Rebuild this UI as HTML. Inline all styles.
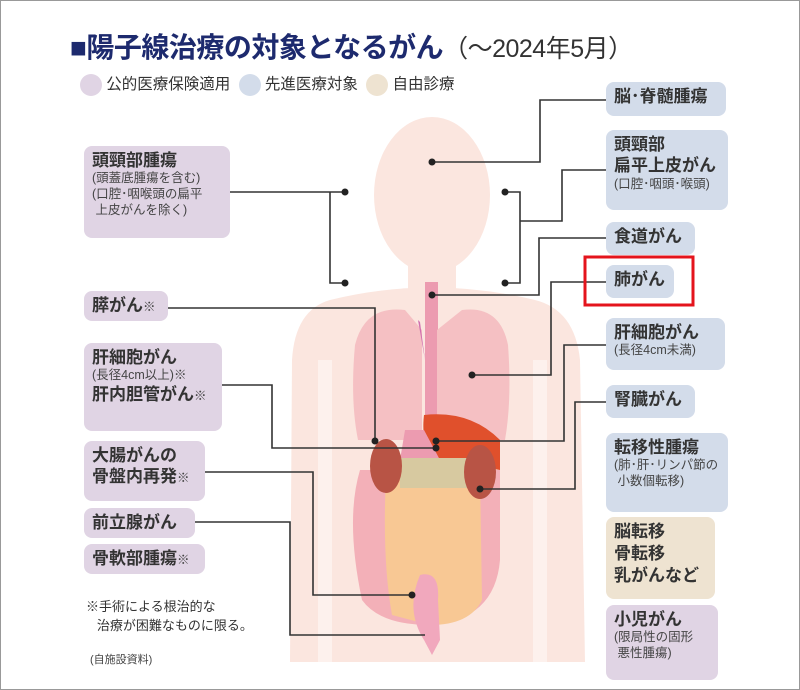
<!DOCTYPE html>
<html><head><meta charset="utf-8"><style>
html,body{margin:0;padding:0;background:#fff}
body{width:800px;height:690px;position:relative;overflow:hidden;font-family:"Liberation Sans","Noto Sans CJK JP",sans-serif;color:#333}
.frame{position:absolute;left:0;top:0;width:798px;height:688px;border:1px solid #999}
.b{position:absolute;border-radius:8px;box-sizing:border-box;padding:4px 8px;line-height:1.25}
.p{background:#e0d4e4}.bl{background:#d3dcea}.t{background:#eee3d1}
.big{font-size:17px;font-weight:bold;color:#333}
.sm{font-size:12.5px;color:#444}
.ab{position:absolute}
</style></head><body>
<div class="frame"></div>
<div class="ab" style="left:70px;top:26px;font-size:28px;font-weight:bold;color:#1d2a6e;white-space:nowrap;letter-spacing:-0.5px">■陽子線治療の対象となるがん<span style="font-weight:normal;color:#333;font-size:25px">（～2024年5月）</span></div>
<div class="ab" style="left:80px;top:74px;font-size:15.5px;white-space:nowrap;line-height:22px">
<span style="display:inline-block;width:22px;height:22px;border-radius:11px;background:#e0d4e4;vertical-align:middle"></span> 公的医療保険適用
<span style="display:inline-block;width:22px;height:22px;border-radius:11px;background:#d3dcea;vertical-align:middle;margin-left:4px"></span> 先進医療対象
<span style="display:inline-block;width:22px;height:22px;border-radius:11px;background:#eee3d1;vertical-align:middle;margin-left:4px"></span> 自由診療</div>

<svg class="ab" style="left:0;top:0" width="800" height="690">
<g fill="#fbe6df">
<ellipse cx="432" cy="195" rx="58" ry="78"/>
<rect x="408" y="250" width="48" height="50"/>
<path d="M330 300 Q432 275 535 300 Q575 310 580 360 L585 662 L290 662 L292 360 Q295 310 330 300Z"/>
</g>
<g fill="#fdf1ed"><rect x="318" y="360" width="14" height="302"/><rect x="533" y="360" width="14" height="302"/></g>
<rect x="425" y="282" width="13" height="140" fill="#ec9bb0"/>
<path d="M355 345 Q365 305 405 310 L422 330 L422 440 L358 440 Q350 400 355 345Z" fill="#f5c0c3"/>
<path d="M508 345 Q500 305 462 310 L437 330 L437 440 L505 440 Q512 400 508 345Z" fill="#f5c0c3"/>
<path d="M420 322 L425 360 L418 320Z" fill="#d070b0"/>
<path d="M424 415 Q470 410 500 440 L500 470 L440 460 Q420 450 424 415Z" fill="#e0502c"/>
<path d="M405 430 L424 430 L440 460 L400 460Z" fill="#ec9bb0"/>
<path d="M360 470 Q345 520 362 600 Q380 625 430 625 Q495 620 500 560 L500 470Z" fill="#f3b0b8"/>
<path d="M386 475 L480 475 L482 600 Q470 625 430 625 L392 615 Q382 560 386 475Z" fill="#f8c894"/>
<rect x="400" y="458" width="70" height="30" fill="#d7c9a0"/>
<path d="M420 575 Q440 570 438 600 L440 640 L432 655 L424 640 Q405 610 420 575Z" fill="#f1a8bd"/>
<ellipse cx="386" cy="466" rx="16" ry="27" fill="#b85445"/>
<ellipse cx="480" cy="472" rx="16" ry="27" fill="#b85445"/>
<g fill="none" stroke="#333" stroke-width="1.6">
<path d="M432 162 H540 V100 H606"/>
<path d="M505 192 H520 V283 H505 M520 221 H562 V170 H606"/>
<path d="M230 192 H345 M330 192 V283 H345"/>
<path d="M432 295 H539 V238 H606"/>
<path d="M472 375 H551 V282 H606"/>
<path d="M436 441 H564 V345 H606"/>
<path d="M480 489 H575 V402 H606"/>
<path d="M168 308 H375 V441"/>
<path d="M222 385 H272 V448 H436"/>
<path d="M205 472 H313 V595 H412"/>
<path d="M195 522 H290 V635 H425"/>
</g>
<g fill="#222">
<circle cx="432" cy="162" r="3.5"/><circle cx="505" cy="192" r="3.5"/><circle cx="505" cy="283" r="3.5"/>
<circle cx="345" cy="192" r="3.5"/><circle cx="345" cy="283" r="3.5"/><circle cx="432" cy="295" r="3.5"/>
<circle cx="472" cy="375" r="3.5"/><circle cx="436" cy="441" r="3.5"/><circle cx="436" cy="448" r="3.5"/>
<circle cx="480" cy="489" r="3.5"/><circle cx="375" cy="441" r="3.5"/><circle cx="412" cy="595" r="3.5"/>
</g>
<rect x="585" y="257" width="108" height="48" fill="none" stroke="#e4141c" stroke-width="3"/>
</svg>

<div class="b p" style="left:84px;top:146px;width:146px;height:92px"><div class="big">頭頸部腫瘍</div><div class="sm">(頭蓋底腫瘍を含む)<br>(口腔･咽喉頭の扁平<br>&nbsp;上皮がんを除く)</div></div>
<div class="b p" style="left:84px;top:291px;width:84px;height:30px"><span class="big">膵がん</span><span class="sm">※</span></div>
<div class="b p" style="left:84px;top:343px;width:138px;height:88px"><div class="big">肝細胞がん</div><div class="sm">(長径4cm以上)※</div><div class="big">肝内胆管がん<span class="sm">※</span></div></div>
<div class="b p" style="left:84px;top:441px;width:121px;height:60px"><div class="big">大腸がんの<br>骨盤内再発<span class="sm">※</span></div></div>
<div class="b p" style="left:84px;top:508px;width:111px;height:30px"><span class="big">前立腺がん</span></div>
<div class="b p" style="left:84px;top:544px;width:121px;height:30px"><span class="big">骨軟部腫瘍</span><span class="sm">※</span></div>
<div class="ab sm" style="left:86px;top:597px;font-size:13px;line-height:19px;color:#333">※手術による根治的な<br>&nbsp;&nbsp;&nbsp;治療が困難なものに限る。</div>
<div class="ab sm" style="left:90px;top:651px;font-size:11px">(自施設資料)</div>

<div class="b bl" style="left:606px;top:82px;width:120px;height:34px"><span class="big">脳･脊髄腫瘍</span></div>
<div class="b bl" style="left:606px;top:130px;width:122px;height:80px"><div class="big">頭頸部<br>扁平上皮がん</div><div class="sm">(口腔･咽頭･喉頭)</div></div>
<div class="b bl" style="left:606px;top:222px;width:89px;height:33px"><span class="big">食道がん</span></div>
<div class="b bl" style="left:606px;top:265px;width:68px;height:33px"><span class="big">肺がん</span></div>
<div class="b bl" style="left:606px;top:318px;width:119px;height:52px"><div class="big">肝細胞がん</div><div class="sm">(長径4cm未満)</div></div>
<div class="b bl" style="left:606px;top:385px;width:89px;height:33px"><span class="big">腎臓がん</span></div>
<div class="b bl" style="left:606px;top:433px;width:122px;height:79px"><div class="big">転移性腫瘍</div><div class="sm">(肺･肝･リンパ節の<br>&nbsp;小数個転移)</div></div>
<div class="b t" style="left:606px;top:517px;width:109px;height:82px"><div class="big" style="line-height:1.3">脳転移<br>骨転移<br>乳がんなど</div></div>
<div class="b p" style="left:606px;top:605px;width:112px;height:75px"><div class="big">小児がん</div><div class="sm">(限局性の固形<br>&nbsp;悪性腫瘍)</div></div>
</body></html>
